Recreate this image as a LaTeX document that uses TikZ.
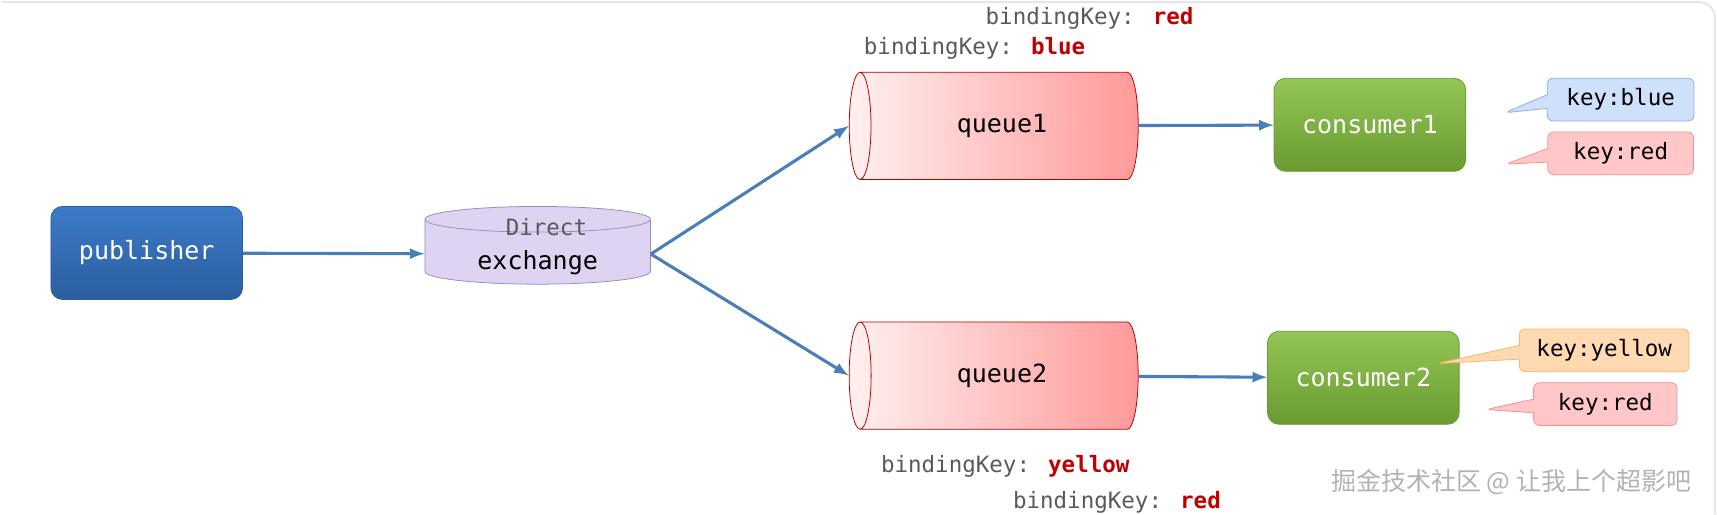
\documentclass[tikz,border=0pt]{standalone}
\usepackage{fontspec}
\setmainfont{DejaVu Sans Mono}
\newfontfamily\cjk{Noto Sans CJK SC}
\usetikzlibrary{shapes.geometric,shapes.callouts}
\definecolor{arrowblue}{HTML}{4A7EBB}
\definecolor{keyred}{HTML}{C00000}
\definecolor{pubtop}{HTML}{3C7BC8}
\definecolor{pubbot}{HTML}{2B5E9E}
\definecolor{contop}{HTML}{93C656}
\definecolor{conbot}{HTML}{6A9A30}
\definecolor{exfill}{HTML}{DED3F1}
\definecolor{exdraw}{HTML}{9A8CC0}
\definecolor{tipblue}{HTML}{CFE0FA}
\definecolor{tipbluedraw}{HTML}{8AAEE0}
\tikzset{
  big/.style={font=\fontsize{13}{15}\selectfont},
  small/.style={font=\fontsize{11.7}{14}\selectfont},
  flow/.style={arrowblue,line width=1.6pt,-latex},
  box/.style={rounded corners=6pt,minimum width=3.5cm,minimum height=1.7cm,big,text=white},
  consumer/.style={box,top color=contop,bottom color=conbot,draw=conbot},
  queue/.style={cylinder,shape border rotate=180,aspect=0.6,draw=red!70!black,
    left color=red!6,right color=red!40,minimum width=1.96cm,minimum height=5.28cm,big},
  tip/.style={rectangle callout,rounded corners=3pt,small,minimum height=0.78cm,inner xsep=8pt}
}
\begin{document}
\begin{tikzpicture}[x=0.02cm,y=-0.02cm]
  \useasboundingbox (0,0) rectangle (1568,470);
  \draw[black!10,line width=1pt,rounded corners=8pt] (2,2) -- (1566,2) -- (1566,470);
  % left side
  \node[box,top color=pubtop,bottom color=pubbot,draw=pubbot] (publisher) at (134,231) {publisher};
  \node[cylinder,shape border rotate=90,aspect=2,draw=exdraw,fill=exfill,
    minimum width=4.12cm,minimum height=1.42cm] (exchange) at (491,232) {};
  \node[big] (exlabel) at (491,240) {exchange};
  \node[small,black!65] (direct) at (499,207) {Direct};
  % queues
  \node[queue] (queue1) at (915,115) {queue1};
  \node[queue] (queue2) at (915,343) {queue2};
  % consumers
  \node[consumer] (consumer1) at (1251,114) {consumer1};
  \node[consumer] (consumer2) at (1245,345) {consumer2};
  % callouts
  \coordinate (t1) at (1374,103);
  \coordinate (t2) at (1375,150);
  \coordinate (t3) at (1312,332);
  \coordinate (t4) at (1357,374);
  \node[tip,fill=tipblue,draw=tipbluedraw,minimum width=2.68cm,callout absolute pointer=(t1)] (kb1) at (1480,91) {key:blue};
  \node[tip,fill=red!22,draw=red!45,minimum width=2.66cm,callout absolute pointer=(t2)] (kr1) at (1480,140) {key:red};
  \node[tip,fill=orange!30,draw=orange!60,minimum width=3.1cm,callout absolute pointer=(t3)] (ky2) at (1465,320) {key:yellow};
  \node[tip,fill=red!22,draw=red!45,minimum width=2.62cm,callout absolute pointer=(t4)] (kr2) at (1466,369) {key:red};
  % binding keys
  \node[small,black!65] (bk1) at (995,17) {bindingKey: \textbf{\color{keyred}red}};
  \node[small,black!65] (bk2) at (890,44) {bindingKey: \textbf{\color{keyred}blue}};
  \node[small,black!65] (bk3) at (918,426) {bindingKey: \textbf{\color{keyred}yellow}};
  \node[small,black!65] (bk4) at (1020,459) {bindingKey: \textbf{\color{keyred}red}};
  \node[font=\cjk\fontsize{13}{15}\selectfont,black!30] (mark) at (1380,440) {掘金技术社区 @ 让我上个超影吧};
  % arrows
  \draw[flow] (publisher) -- (exchange);
  \draw[flow] (exchange.east) -- (queue1.west);
  \draw[flow] (exchange.east) -- (queue2.west);
  \draw[flow] (queue1) -- (consumer1);
  \draw[flow] (queue2) -- (consumer2);
\end{tikzpicture}
\end{document}
